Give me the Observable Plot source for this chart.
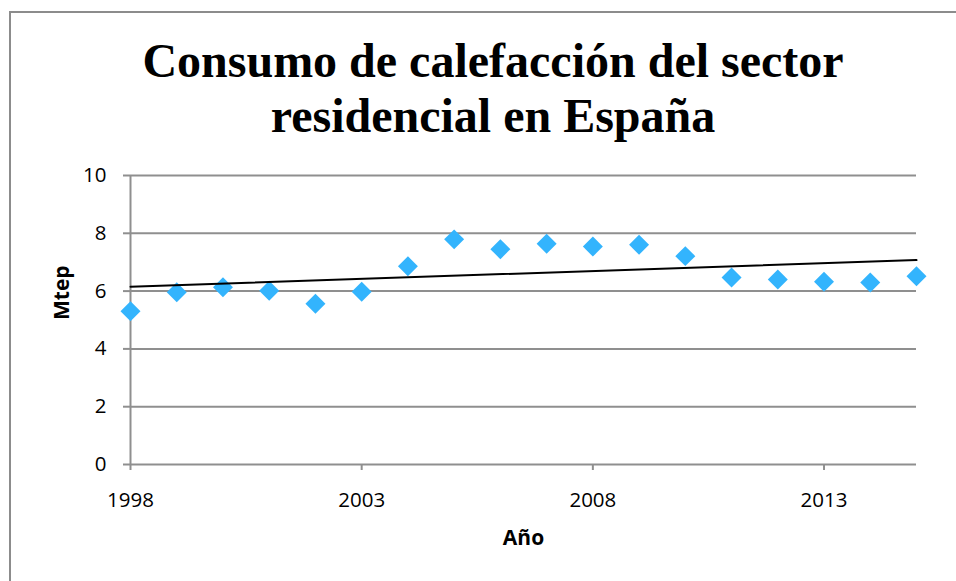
<!DOCTYPE html>
<html>
<head>
<meta charset="utf-8">
<script src="https://cdn.jsdelivr.net/npm/d3@7"></script>
<script src="https://cdn.jsdelivr.net/npm/@observablehq/plot@0.6"></script>
<style>
  html, body { margin: 0; padding: 0; background: #fff; }
  #page { position: relative; width: 956px; height: 581px; overflow: hidden; background: #fff; }
  #frame { position: absolute; left: 9px; top: 11px; width: 1100px; height: 800px;
           border: 2px solid #8c8c8c; box-sizing: border-box; }
  #title { position: absolute; left: 0; top: 33px; width: 986px; text-align: center;
           font-family: "Liberation Serif", "Times New Roman", serif; font-weight: bold;
           font-size: 48px; line-height: 55px; color: #000; }
  #chart { position: absolute; left: 0; top: 150px; }
  #chart g[aria-label$="tick label"],
  #chart g[aria-label$="tick label"] text { font-size: 20.5px !important; }
</style>
</head>
<body>
<div id="page">
  <div id="frame"></div>
  <div id="title">Consumo de calefacción del sector<br>residencial en España</div>
  <div id="chart"></div>
</div>
<script>
// Residential heating consumption in Spain, million toe (Mtep), 1998–2015
const years = [1998, 1999, 2000, 2001, 2002, 2003, 2004, 2005, 2006,
               2007, 2008, 2009, 2010, 2011, 2012, 2013, 2014, 2015];
const mtep  = [5.30, 5.96, 6.13, 6.01, 5.56, 5.98, 6.86, 7.79, 7.45,
               7.64, 7.54, 7.60, 7.21, 6.47, 6.40, 6.32, 6.30, 6.51];
const xTicks = [1998, 2003, 2008, 2013];
const yTicks = [0, 2, 4, 6, 8, 10];

const data = years.map((year, i) => ({year, value: mtep[i]}));

const grid = "#8f8f8f";
const dotColor = "#33b4fd";

const chart = Plot.plot({
  width: 956,
  height: 431,
  marginTop: 25,
  marginBottom: 117,
  marginLeft: 130,
  marginRight: 40,
  style: {fontFamily: "'Open Sans', sans-serif", fontSize: "18px", color: "#000", background: "transparent"},
  x: {domain: [1998, 2015]},
  y: {domain: [0, 10]},
  marks: [
    Plot.gridY(yTicks, {stroke: grid, strokeOpacity: 1, strokeWidth: 2}),
    Plot.ruleX([1998], {stroke: grid, strokeWidth: 2}),
    Plot.axisY({ticks: yTicks, tickSize: 7, tickPadding: 17, stroke: grid, strokeWidth: 2,
                fill: "#000", fontSize: 20.5, label: null}),
    Plot.axisX({ticks: xTicks, tickSize: 6, tickPadding: 22, stroke: grid, strokeWidth: 2,
                fill: "#000", fontSize: 20.5, tickFormat: d => String(d), label: null}),
    Plot.dot(data, {x: "year", y: "value", symbol: "diamond2", r: 9, fill: dotColor, stroke: "none"}),
    Plot.linearRegressionY(data, {x: "year", y: "value", stroke: "#000", strokeWidth: 2, ci: 0}),
    Plot.text(["Año"], {frameAnchor: "bottom", dy: 80, fontWeight: "bold", fontSize: 21}),
    Plot.text(["Mtep"], {frameAnchor: "left", dx: -68, rotate: -90, fontWeight: "bold", fontSize: 21})
  ]
});
document.getElementById("chart").appendChild(chart);
</script>
</body>
</html>
